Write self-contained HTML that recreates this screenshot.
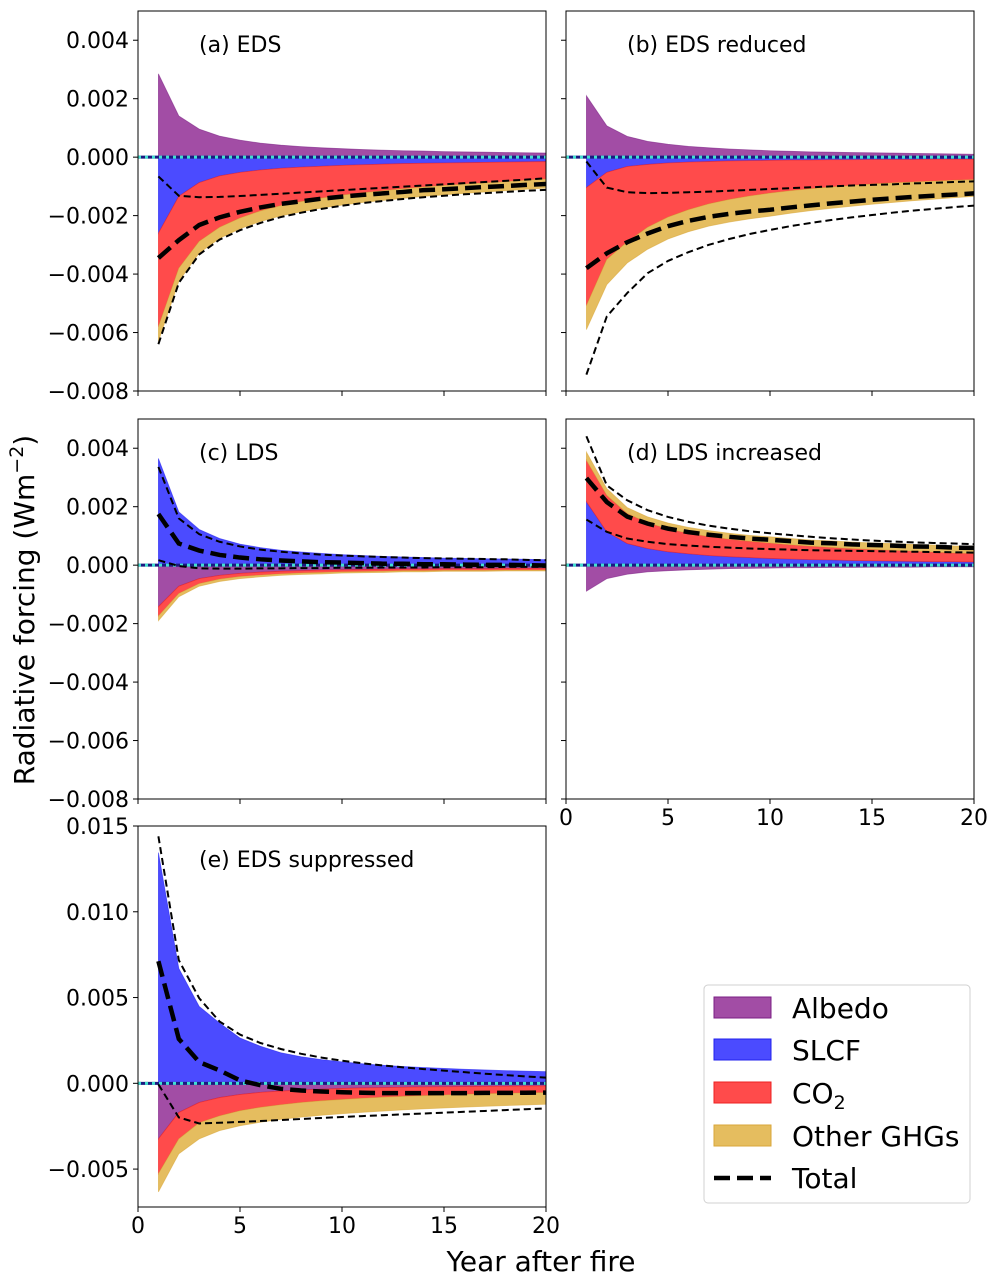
<!DOCTYPE html>
<html><head><meta charset="utf-8"><style>
body{margin:0;background:#fff;}
svg{display:block;font-family:"DejaVu Sans","Liberation Sans",sans-serif;}
</style></head><body>
<svg id="chart" width="997" height="1282" viewBox="0 0 997 1282"></svg>
<script>
const years=[1,2,3,4,5,6,7,8,9,10,11,12,13,14,15,16,17,18,19,20];
// values in 1e-3 W m-2
const aAlbedo=[2.85,1.41,0.96,0.72,0.58,0.48,0.41,0.36,0.32,0.29,0.26,0.24,0.22,0.21,0.19,0.18,0.17,0.16,0.15,0.14];
const aSlcf=[-2.6,-1.34,-0.87,-0.64,-0.52,-0.44,-0.38,-0.34,-0.31,-0.28,-0.26,-0.24,-0.22,-0.21,-0.2,-0.19,-0.18,-0.17,-0.16,-0.15];
const aCo2=[-3.2,-2.46,-2.01,-1.76,-1.56,-1.4,-1.28,-1.18,-1.09,-1.02,-0.96,-0.91,-0.86,-0.81,-0.77,-0.73,-0.7,-0.67,-0.63,-0.6];
const aOther=[-0.5,-0.45,-0.4,-0.38,-0.37,-0.36,-0.35,-0.35,-0.34,-0.34,-0.33,-0.33,-0.33,-0.32,-0.32,-0.32,-0.31,-0.31,-0.31,-0.31];
const aUpper=[-0.66,-1.32,-1.37,-1.36,-1.33,-1.29,-1.25,-1.21,-1.17,-1.13,-1.09,-1.05,-1.01,-0.97,-0.93,-0.89,-0.85,-0.81,-0.77,-0.72];
const aLower=[-6.4,-4.3,-3.33,-2.82,-2.5,-2.25,-2.05,-1.9,-1.77,-1.66,-1.57,-1.5,-1.43,-1.37,-1.32,-1.27,-1.23,-1.19,-1.15,-1.12];

const bAlbedo=[2.1,1.07,0.71,0.54,0.44,0.37,0.32,0.28,0.25,0.22,0.2,0.18,0.17,0.16,0.15,0.14,0.13,0.12,0.11,0.1];
const bSlcf=[-1.04,-0.52,-0.32,-0.25,-0.2,-0.17,-0.15,-0.13,-0.12,-0.11,-0.1,-0.1,-0.09,-0.09,-0.08,-0.08,-0.08,-0.07,-0.07,-0.07];
const bCo2=[-4.04,-2.98,-2.58,-2.15,-1.85,-1.63,-1.45,-1.32,-1.21,-1.12,-1.05,-0.98,-0.93,-0.88,-0.84,-0.8,-0.77,-0.75,-0.72,-0.7];
const bOther=[-0.82,-0.86,-0.72,-0.75,-0.75,-0.75,-0.76,-0.77,-0.78,-0.79,-0.77,-0.75,-0.73,-0.71,-0.69,-0.67,-0.64,-0.62,-0.6,-0.57];
const bUpper=[-0.15,-1.04,-1.2,-1.23,-1.22,-1.2,-1.18,-1.15,-1.12,-1.09,-1.06,-1.03,-1.0,-0.97,-0.95,-0.93,-0.9,-0.88,-0.85,-0.83];
const bLower=[-7.44,-5.45,-4.65,-3.97,-3.55,-3.25,-3.0,-2.8,-2.63,-2.49,-2.36,-2.25,-2.15,-2.06,-1.98,-1.9,-1.83,-1.77,-1.71,-1.66];

const cAlbedo=[-1.42,-0.72,-0.46,-0.35,-0.28,-0.24,-0.21,-0.19,-0.17,-0.16,-0.15,-0.14,-0.13,-0.13,-0.12,-0.12,-0.12,-0.11,-0.11,-0.11];
const cSlcf=[3.65,1.82,1.22,0.91,0.72,0.6,0.51,0.45,0.4,0.36,0.33,0.3,0.28,0.26,0.24,0.23,0.22,0.21,0.2,0.19];
const cCo2=[-0.32,-0.25,-0.17,-0.13,-0.11,-0.1,-0.09,-0.08,-0.08,-0.07,-0.07,-0.07,-0.06,-0.06,-0.06,-0.06,-0.06,-0.06,-0.06,-0.06];
const cOther=[-0.16,-0.11,-0.09,-0.08,-0.07,-0.06,-0.05,-0.05,-0.05,-0.04,-0.04,-0.04,-0.04,-0.04,-0.03,-0.03,-0.03,-0.03,-0.03,-0.03];
const cUpper=[3.36,1.6,1.06,0.8,0.64,0.53,0.46,0.4,0.36,0.33,0.3,0.28,0.26,0.24,0.23,0.22,0.21,0.2,0.18,0.17];
const cLower=[0.17,-0.03,-0.11,-0.12,-0.12,-0.11,-0.11,-0.1,-0.1,-0.09,-0.09,-0.08,-0.08,-0.08,-0.07,-0.07,-0.07,-0.06,-0.06,-0.06];

const dAlbedo=[-0.89,-0.46,-0.31,-0.23,-0.19,-0.16,-0.14,-0.12,-0.11,-0.1,-0.09,-0.09,-0.08,-0.08,-0.07,-0.07,-0.07,-0.06,-0.06,-0.06];
const dSlcf=[2.17,1.14,0.74,0.57,0.46,0.39,0.33,0.29,0.26,0.23,0.21,0.19,0.18,0.16,0.15,0.14,0.13,0.12,0.12,0.11];
const dCo2=[1.42,1.25,1.03,0.88,0.78,0.7,0.65,0.6,0.56,0.53,0.49,0.46,0.43,0.41,0.39,0.37,0.35,0.33,0.3,0.29];
const dOther=[0.28,0.23,0.2,0.2,0.2,0.2,0.2,0.2,0.2,0.21,0.21,0.21,0.22,0.22,0.22,0.23,0.23,0.24,0.24,0.25];
const dUpper=[4.41,2.73,2.22,1.88,1.65,1.48,1.35,1.25,1.16,1.09,1.03,0.97,0.92,0.88,0.84,0.81,0.78,0.76,0.74,0.72];
const dLower=[1.56,1.14,0.91,0.8,0.72,0.67,0.63,0.6,0.57,0.55,0.53,0.51,0.5,0.49,0.48,0.47,0.46,0.45,0.44,0.43];

const eAlbedo=[-3.24,-1.7,-1.12,-0.83,-0.65,-0.53,-0.45,-0.39,-0.34,-0.3,-0.27,-0.25,-0.23,-0.21,-0.2,-0.19,-0.18,-0.17,-0.16,-0.15];
const eSlcf=[13.45,6.7,4.48,3.51,2.64,2.16,1.78,1.55,1.38,1.25,1.14,1.05,0.98,0.92,0.87,0.82,0.78,0.74,0.71,0.68];
const eCo2=[-2.03,-1.54,-1.18,-1.07,-0.95,-0.87,-0.8,-0.73,-0.68,-0.64,-0.6,-0.56,-0.53,-0.51,-0.48,-0.45,-0.43,-0.41,-0.4,-0.39];
const eOther=[-1.06,-0.87,-0.94,-0.86,-0.87,-0.87,-0.85,-0.85,-0.84,-0.83,-0.82,-0.81,-0.79,-0.77,-0.76,-0.75,-0.73,-0.72,-0.7,-0.68];
const eUpper=[14.4,7.18,4.96,3.6,2.84,2.35,2.0,1.72,1.5,1.32,1.17,1.04,0.93,0.83,0.74,0.65,0.56,0.48,0.4,0.33];
const eLower=[-0.06,-1.99,-2.34,-2.3,-2.25,-2.2,-2.14,-2.08,-2.02,-1.96,-1.91,-1.86,-1.81,-1.76,-1.71,-1.66,-1.61,-1.56,-1.51,-1.47];

const ticksSmall=[-0.008,-0.006,-0.004,-0.002,0,0.002,0.004];
const tickLabelsSmall=["\u22120.008","\u22120.006","\u22120.004","\u22120.002","0.000","0.002","0.004"];
const ticksE=[-0.005,0,0.005,0.01,0.015];
const tickLabelsE=["\u22120.005","0.000","0.005","0.010","0.015"];
const xTicks=[0,5,10,15,20];

const NS="http://www.w3.org/2000/svg";
const svg=document.getElementById('chart');
function mk(tag,attrs,parent){const e=document.createElementNS(NS,tag);for(const k in attrs)e.setAttribute(k,attrs[k]);(parent||svg).appendChild(e);return e;}

const panels=[
 {id:'a',label:'(a) EDS',x0:138,x1:546,y0:11,y1:391,ymin:-0.008,ymax:0.005,yt:ticksSmall,ytl:tickLabelsSmall,showY:true,showX:false,d:[aAlbedo,aSlcf,aCo2,aOther],up:aUpper,lo:aLower},
 {id:'b',label:'(b) EDS reduced',x0:566,x1:974,y0:11,y1:391,ymin:-0.008,ymax:0.005,yt:ticksSmall,ytl:tickLabelsSmall,showY:false,showX:false,d:[bAlbedo,bSlcf,bCo2,bOther],up:bUpper,lo:bLower},
 {id:'c',label:'(c) LDS',x0:138,x1:546,y0:419,y1:799,ymin:-0.008,ymax:0.005,yt:ticksSmall,ytl:tickLabelsSmall,showY:true,showX:false,d:[cAlbedo,cSlcf,cCo2,cOther],up:cUpper,lo:cLower},
 {id:'d',label:'(d) LDS increased',x0:566,x1:974,y0:419,y1:799,ymin:-0.008,ymax:0.005,yt:ticksSmall,ytl:tickLabelsSmall,showY:false,showX:true,d:[dAlbedo,dSlcf,dCo2,dOther],up:dUpper,lo:dLower},
 {id:'e',label:'(e) EDS suppressed',x0:138,x1:546,y0:826,y1:1207,ymin:-0.00721,ymax:0.015,yt:ticksE,ytl:tickLabelsE,showY:true,showX:true,d:[eAlbedo,eSlcf,eCo2,eOther],up:eUpper,lo:eLower}
];
const fills=['#a24da5','#4b4bff','#ff4b4b','#e5bd5f'];
const edges=['#7b1f84','#2020ee','#ee2020','#d9a63a'];
const names=['albedo','slcf','co2','other-ghgs'];

panels.forEach(p=>{
  const g=mk('g',{});
  
  
  const sx=v=>p.x0+(v-0)/(20-0)*(p.x1-p.x0);
  const sy=v=>p.y1-(v-p.ymin)/(p.ymax-p.ymin)*(p.y1-p.y0);
  const cp=mk('clipPath',{id:'clip'+p.id},g);
  mk('rect',{x:p.x0,y:p.y0,width:p.x1-p.x0,height:p.y1-p.y0},cp);
  const area=mk('g',{'clip-path':'url(#clip'+p.id+')'},g);
  const pos=years.map(()=>0), neg=years.map(()=>0);
  p.d.forEach((arr,k)=>{
    const top=[],bot=[];
    arr.forEach((v,i)=>{const val=v/1000;
      if(val>=0){bot.push(pos[i]);pos[i]+=val;top.push(pos[i]);}
      else{bot.push(neg[i]);neg[i]+=val;top.push(neg[i]);}});
    let d='M'+years.map((yr,i)=>sx(yr).toFixed(2)+','+sy(top[i]).toFixed(2)).join('L');
    d+='L'+years.slice().reverse().map((yr,j)=>{const i=years.length-1-j;return sx(yr).toFixed(2)+','+sy(bot[i]).toFixed(2);}).join('L')+'Z';
    const path=mk('path',{d:d,fill:fills[k],stroke:edges[k],'stroke-width':0.8,'stroke-opacity':0.6},area);
    
    
  });
  const zl=mk('line',{x1:p.x0,x2:p.x1,y1:sy(0),y2:sy(0),stroke:'#1a1a80','stroke-width':3},area);
  
  
  mk('line',{x1:p.x0,x2:p.x1,y1:sy(0),y2:sy(0),stroke:'#40e0d0','stroke-width':3,'stroke-dasharray':'3 4'},area);
  [['up',p.up],['lo',p.lo]].forEach(([nm,arr])=>{
    const l=mk('path',{d:'M'+years.map((yr,i)=>sx(yr).toFixed(2)+','+sy(arr[i]/1000).toFixed(2)).join('L'),fill:'none',stroke:'#000','stroke-width':2,'stroke-dasharray':'7 4'},area);
    
    
  });
  const tot=years.map((yr,i)=>p.d.reduce((s,a)=>s+a[i],0)/1000);
  const tl=mk('path',{d:'M'+years.map((yr,i)=>sx(yr).toFixed(2)+','+sy(tot[i]).toFixed(2)).join('L'),fill:'none',stroke:'#000','stroke-width':4.5,'stroke-dasharray':'16 7'},area);
  
  
  const fr=mk('rect',{x:p.x0,y:p.y0,width:p.x1-p.x0,height:p.y1-p.y0,fill:'none',stroke:'#000','stroke-width':1},g);
  
  
  p.yt.forEach((t,i)=>{
    const y=sy(t);
    mk('line',{x1:p.x0-5,x2:p.x0,y1:y,y2:y,stroke:'#000','stroke-width':1},g);
    if(p.showY){const tx=mk('text',{x:p.x0-9,y:y+8,'text-anchor':'end','font-size':22,fill:'#000'},g);tx.textContent=p.ytl[i];
      
      }
  });
  xTicks.forEach(t=>{
    const x=sx(t);
    mk('line',{x1:x,x2:x,y1:p.y1,y2:p.y1+5,stroke:'#000','stroke-width':1},g);
    if(p.showX){const tx=mk('text',{x:x,y:p.y1+26,'text-anchor':'middle','font-size':22,fill:'#000'},g);tx.textContent=t;
      
      }
  });
  const lab=mk('text',{x:p.x0+61,y:p.y0+41,'font-size':22,fill:'#000'},g);
  lab.textContent=p.label;
  
  
});
</script>
<svg width="997" height="1282" style="position:absolute;left:0;top:0">
 <text x="34" y="610" transform="rotate(-90 34 610)" text-anchor="middle" font-size="28" font-family="DejaVu Sans, Liberation Sans, sans-serif">Radiative forcing (Wm<tspan dy="-11" font-size="19">−2</tspan><tspan dy="11">)</tspan></text>
 <text x="541" y="1271" text-anchor="middle" font-size="28" font-family="DejaVu Sans, Liberation Sans, sans-serif">Year after fire</text>
 <g font-family="DejaVu Sans, Liberation Sans, sans-serif" font-size="28">
  <rect x="704" y="985" width="266" height="218" rx="4" fill="#fff" stroke="#d0d0d0" stroke-width="1"/>
  <rect x="714" y="997" width="57" height="21" fill="#a24da5" stroke="#7b1f84"/>
  <text x="792" y="1018">Albedo</text>
  <rect x="714" y="1039" width="57" height="21" fill="#4b4bff" stroke="#2020ee"/>
  <text x="792" y="1060">SLCF</text>
  <rect x="714" y="1082" width="57" height="21" fill="#ff4b4b" stroke="#ee2020"/>
  <text x="792" y="1103">CO<tspan dy="6" font-size="19">2</tspan></text>
  <rect x="714" y="1125" width="57" height="21" fill="#e5bd5f" stroke="#d9a63a"/>
  <text x="792" y="1146">Other GHGs</text>
  <line x1="714" x2="771" y1="1178" y2="1178" stroke="#000" stroke-width="4.5" stroke-dasharray="16 7"/>
  <text x="792" y="1188">Total</text>
 </g>
</svg>
</body></html>
